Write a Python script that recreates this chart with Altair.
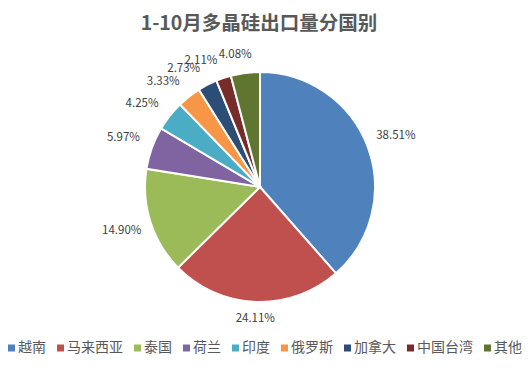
import altair as alt
import pandas as pd

countries = ["越南", "马来西亚", "泰国", "荷兰", "印度", "俄罗斯", "加拿大", "中国台湾", "其他"]
shares = [38.51, 24.11, 14.90, 5.97, 4.25, 3.33, 2.73, 2.11, 4.08]
colors = ["#4F81BD", "#C0504D", "#9BBB59", "#8064A2", "#4BACC6", "#F79646", "#2C4D75", "#772C2A", "#5F7530"]

df = pd.DataFrame({
    "country": countries,
    "share": shares,
    "order": list(range(len(countries))),
    "label": [f"{v:.2f}%" for v in shares],
})

FONT = "Noto Sans CJK SC"
CX, CY, R = 252, 149, 115
LEG_FS = 14          # legend label font size
LEG_Y = 310          # legend row (vertical centre)

color_scale = alt.Scale(domain=countries, range=colors)

base = (
    alt.Chart(df)
    .transform_window(cum="sum(share)", sort=[alt.SortField("order")])
    .transform_joinaggregate(total="sum(share)")
    .transform_calculate(
        a0="(datum.cum - datum.share) / datum.total * 2 * PI",
        a1="datum.cum / datum.total * 2 * PI",
    )
    .transform_calculate(mid="(datum.a0 + datum.a1) / 2")
)

pie = base.mark_arc(outerRadius=R, stroke="white", strokeWidth=2).encode(
    theta=alt.Theta("a0:Q", scale=None),
    theta2=alt.Theta2("a1:Q"),
    x=alt.value(CX),
    y=alt.value(CY),
    color=alt.Color("country:N", scale=color_scale, legend=None),
)

# outside-end labels: small slices' labels are nudged counter-clockwise to
# spread them apart; radius keeps the label box just outside the rim
labels = (
    base.transform_calculate(
        la="datum.mid - 0.18 * max(0, 1 - datum.share / 6)"
    )
    .transform_calculate(
        rad=f"{R + 9} + 20 * abs(sin(datum.la)) + 7 * abs(cos(datum.la))"
    )
    .mark_text(font=FONT, fontSize=11.5, color="#404040")
    .encode(
        theta=alt.Theta("la:Q", scale=None),
        radius=alt.Radius("rad:Q", scale=None),
        x=alt.value(CX),
        y=alt.value(CY),
        text="label:N",
    )
)

# horizontal legend row: each entry is as wide as its label plus symbol and gaps
legend_base = (
    alt.Chart(df)
    .transform_calculate(w=f"length(datum.country) * {LEG_FS} + 21")
    .transform_window(cw="sum(w)", sort=[alt.SortField("order")])
    .transform_calculate(lx="datum.cw - datum.w + 3.5")
)

leg_sym = legend_base.mark_square(size=49, opacity=1).encode(
    x=alt.X("lx:Q", scale=None),
    y=alt.value(LEG_Y),
    color=alt.Color("country:N", scale=color_scale, legend=None),
)

leg_txt = legend_base.transform_calculate(tx="datum.lx + 6.5").mark_text(
    font=FONT, fontSize=LEG_FS, color="#595959", align="left", baseline="middle"
).encode(
    x=alt.X("tx:Q", scale=None),
    y=alt.value(LEG_Y),
    text="country:N",
)

chart = (
    alt.layer(pie, labels, leg_sym, leg_txt)
    .resolve_scale(theta="independent", radius="independent")
    .properties(
        width=514,
        height=335,
        autosize=alt.AutoSizeParams(type="none"),
        padding={"left": 0, "top": 30, "right": 0, "bottom": 0},
        title=alt.TitleParams(
            "1-10月多晶硅出口量分国别",
            font=FONT,
            fontSize=19.5,
            fontWeight="bold",
            color="#595959",
            anchor="middle",
            offset=4,
            dx=-6,
        ),
    )
    .configure_view(stroke=None)
)

chart.save("out.html", embed_options={"renderer": "svg", "actions": False})
